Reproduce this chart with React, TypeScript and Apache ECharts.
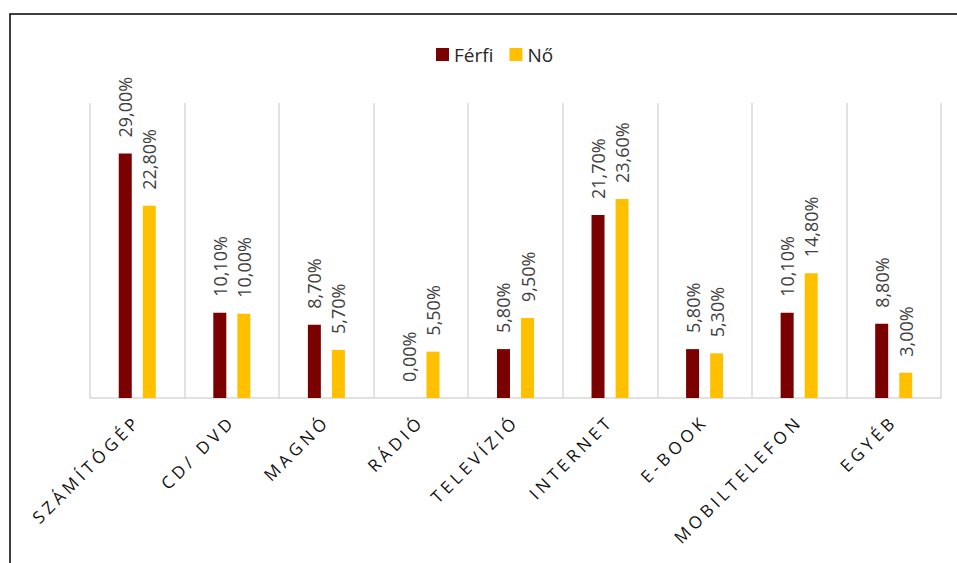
import { useEffect, useRef } from "react";
import * as echarts from "echarts";

// Devices used, by gender (percent)
const categories = [
  "SZÁMÍTÓGÉP",
  "CD/ DVD",
  "MAGNÓ",
  "RÁDIÓ",
  "TELEVÍZIÓ",
  "INTERNET",
  "E-BOOK",
  "MOBILTELEFON",
  "EGYÉB",
];
const seriesNames = ["Férfi", "Nő"];
const ferfiValues = [29.0, 10.1, 8.7, 0.0, 5.8, 21.7, 5.8, 10.1, 8.8];
const noValues = [22.8, 10.0, 5.7, 5.5, 9.5, 23.6, 5.3, 14.8, 3.0];
const seriesColors = ["#7b0000", "#ffc000"];

const FONT = "'Open Sans', 'Noto Sans', sans-serif";
// distinct fill so the category labels can get wide letter spacing via CSS
const AXIS_LABEL_COLOR = "#111111";

const pct = (v: number) => v.toFixed(2).replace(".", ",") + "%";

export default function App() {
  const ref = useRef<HTMLDivElement>(null);

  useEffect(() => {
    if (!ref.current) return;
    const chart = echarts.init(ref.current, undefined, { renderer: "svg" });

    const makeSeries = (name: string, data: number[], color: string) => ({
      name,
      type: "bar" as const,
      data,
      barWidth: 13,
      barGap: "85%",
      itemStyle: { color },
      label: {
        show: true,
        position: "top" as const,
        rotate: 90,
        align: "left" as const,
        verticalAlign: "middle" as const,
        distance: 16,
        fontFamily: FONT,
        fontSize: 18,
        color: "#404040",
        formatter: (p: any) => pct(p.value),
      },
    });

    chart.setOption({
      animation: false,
      backgroundColor: "#ffffff",
      graphic: [
        {
          type: "rect",
          z: -10,
          silent: true,
          shape: { x: 10, y: 14, width: 980, height: 600 },
          style: { fill: "none", stroke: "#000000", lineWidth: 1.5 },
        },
      ],
      legend: {
        data: seriesNames,
        left: 431,
        top: 40,
        icon: "rect",
        itemWidth: 13,
        itemHeight: 13,
        itemGap: 16,
        textStyle: { fontFamily: FONT, fontSize: 19, color: "#262626" },
      },
      grid: { left: 90, right: 16, top: 103, bottom: 165, containLabel: false },
      xAxis: {
        type: "category",
        data: categories,
        axisLine: { show: true, lineStyle: { color: "#d9d9d9", width: 1.5 } },
        axisTick: { show: false },
        splitLine: { show: true, lineStyle: { color: "#d9d9d9", width: 1.5 } },
        axisLabel: {
          interval: 0,
          rotate: 45,
          margin: 20,
          fontFamily: FONT,
          fontSize: 17,
          color: AXIS_LABEL_COLOR,
        },
      },
      yAxis: {
        type: "value",
        min: 0,
        max: 35,
        show: false,
        splitLine: { show: false },
      },
      series: [
        makeSeries(seriesNames[0], ferfiValues, seriesColors[0]),
        makeSeries(seriesNames[1], noValues, seriesColors[1]),
      ],
    });

    return () => chart.dispose();
  }, []);

  return (
    <>
      <style>{`
        body { margin: 0; }
        text[fill="${AXIS_LABEL_COLOR}"] { letter-spacing: 4px; }
      `}</style>
      <div
        ref={ref}
        style={{ position: "fixed", left: 0, top: 0, width: 957, height: 563 }}
      />
    </>
  );
}
